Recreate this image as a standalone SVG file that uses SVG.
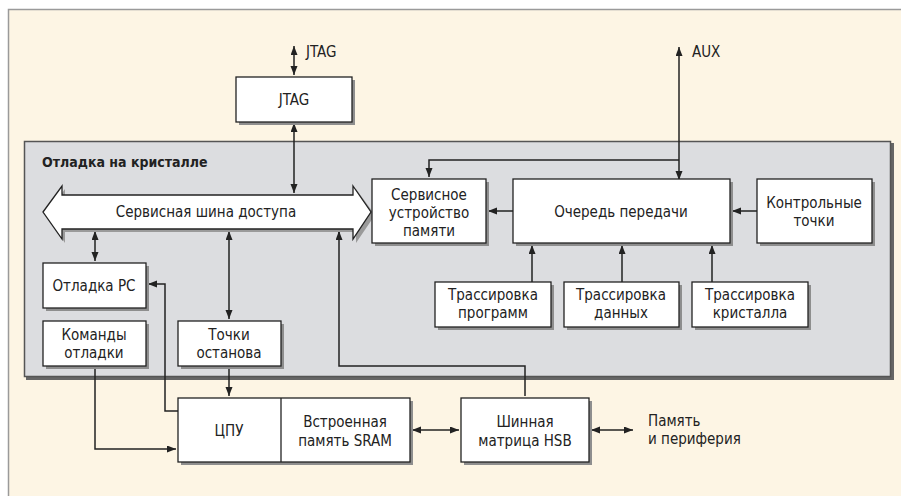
<svg xmlns="http://www.w3.org/2000/svg" width="901" height="496" viewBox="0 0 901 496">
<defs>
<style>
.bg{fill:#fdf5e4;stroke:#9a9a9a;stroke-width:1.5}
.panel{fill:#dcdde0;stroke:#555;stroke-width:1.5}
.pshadow{fill:#666}
.box{fill:#fff;stroke:#222;stroke-width:1.3}
.sh{fill:#8e8e8e}
.t{font-family:"DejaVu Sans Condensed","Liberation Sans",sans-serif;font-size:15px;fill:#222;text-anchor:middle}
.l{text-anchor:start}
.b{font-weight:bold;font-size:14px}
.c{fill:none;stroke:#222;stroke-width:1.5}
.a{marker-end:url(#ah)}
.aa{marker-end:url(#ah);marker-start:url(#ah)}
</style>
<marker id="ah" markerUnits="userSpaceOnUse" markerWidth="10" markerHeight="8" refX="9" refY="3.5" orient="auto-start-reverse">
<path d="M0,0 L9,3.5 L0,7 z" fill="#222"/>
</marker>
</defs>
<rect class="bg" x="8.5" y="9.5" width="900" height="500"/>
<g id="panel">
<rect class="pshadow" x="26" y="143" width="868" height="237"/>
<rect class="panel" x="24.5" y="141.5" width="866" height="235"/>
<text class="t l b" x="42" y="167">Отладка на кристалле</text>
</g>
<g id="connectors">
<path class="c aa" d="M294,46 V75"/>
<path class="c aa" d="M679,180 V47"/>
<path class="c a" d="M679,160 H429 V177"/>
<path class="c aa" d="M294,123 V193"/>
<path class="c aa" d="M95,231 V261"/>
<path class="c aa" d="M229,231 V319"/>
<path class="c" d="M339,231 V366 H525 V396"/>
<path class="c a" d="M339,240 V231"/>
<path class="c a" d="M513,211 H488"/>
<path class="c a" d="M757,211 H732"/>
<path class="c a" d="M532,282 V245"/>
<path class="c a" d="M622,282 V245"/>
<path class="c a" d="M712,282 V245"/>
<path class="c a" d="M229,366 V396"/>
<path class="c a" d="M95,366 V449 H176"/>
<path class="c a" d="M178,411 H165 V284 H148"/>
<path class="c aa" d="M412,430 H459"/>
<path class="c aa" d="M591,430 H633"/>
</g>
<g id="jtag-label"><text class="t l" x="306" y="57">JTAG</text></g>
<g id="aux-label"><text class="t l" x="692" y="57">AUX</text></g>
<g id="jtag">
<rect class="sh" x="239" y="80" width="116" height="45"/>
<rect class="box" x="236" y="77" width="116" height="45"/>
<text class="t" x="294" y="105">JTAG</text>
</g>
<g id="bus">
<path d="M46,215 L65,189 V198 H356 V189 L375,215 L356,243 V232 H65 V243 Z" fill="#9a9a9a"/>
<path d="M43,212 L62,186 V195 H353 V186 L371,212 L353,239 V229 H62 V239 Z" fill="#fff" stroke="#222" stroke-width="1.3"/>
<text class="t" x="206" y="217">Сервисная шина доступа</text>
</g>
<g id="svcmem">
<rect class="sh" x="375" y="182" width="114" height="64"/>
<rect class="box" x="372" y="179" width="114" height="64"/>
<text class="t" x="429" y="200">Сервисное</text>
<text class="t" x="429" y="218">устройство</text>
<text class="t" x="429" y="236">памяти</text>
</g>
<g id="queue">
<rect class="sh" x="516" y="182" width="217" height="64"/>
<rect class="box" x="513" y="179" width="217" height="64"/>
<text class="t" x="621" y="217">Очередь передачи</text>
</g>
<g id="ctrl">
<rect class="sh" x="760" y="182" width="115" height="64"/>
<rect class="box" x="757" y="179" width="115" height="64"/>
<text class="t" x="814" y="208">Контрольные</text>
<text class="t" x="814" y="226">точки</text>
</g>
<g id="trprog">
<rect class="sh" x="438" y="285" width="116" height="45"/>
<rect class="box" x="435" y="282" width="116" height="45"/>
<text class="t" x="493" y="300">Трассировка</text>
<text class="t" x="493" y="318">программ</text>
</g>
<g id="trdata">
<rect class="sh" x="567" y="285" width="115" height="45"/>
<rect class="box" x="564" y="282" width="115" height="45"/>
<text class="t" x="621" y="300">Трассировка</text>
<text class="t" x="621" y="318">данных</text>
</g>
<g id="trchip">
<rect class="sh" x="695" y="285" width="116" height="45"/>
<rect class="box" x="692" y="282" width="116" height="45"/>
<text class="t" x="750" y="300">Трассировка</text>
<text class="t" x="750" y="318">кристалла</text>
</g>
<g id="pcdbg">
<rect class="sh" x="46" y="266" width="103" height="45"/>
<rect class="box" x="43" y="263" width="103" height="45"/>
<text class="t" x="94" y="291">Отладка PC</text>
</g>
<g id="cmddbg">
<rect class="sh" x="46" y="324" width="103" height="45"/>
<rect class="box" x="43" y="321" width="103" height="45"/>
<text class="t" x="94" y="340">Команды</text>
<text class="t" x="94" y="358">отладки</text>
</g>
<g id="bkpt">
<rect class="sh" x="181" y="324" width="103" height="45"/>
<rect class="box" x="178" y="321" width="103" height="45"/>
<text class="t" x="229" y="340">Точки</text>
<text class="t" x="229" y="358">останова</text>
</g>
<g id="cpu">
<rect class="sh" x="181" y="401" width="232" height="64"/>
<rect class="box" x="178" y="398" width="232" height="64"/>
<line x1="281" y1="398" x2="281" y2="462" stroke="#222" stroke-width="1.3"/>
<text class="t" x="229" y="436">ЦПУ</text>
<text class="t" x="345" y="427">Встроенная</text>
<text class="t" x="345" y="446">память SRAM</text>
</g>
<g id="hsb">
<rect class="sh" x="464" y="401" width="128" height="64"/>
<rect class="box" x="461" y="398" width="128" height="64"/>
<text class="t" x="525" y="427">Шинная</text>
<text class="t" x="525" y="446">матрица HSB</text>
</g>
<g id="mem-label">
<text class="t l" x="648" y="426">Память</text>
<text class="t l" x="648" y="444">и периферия</text>
</g>
</svg>
